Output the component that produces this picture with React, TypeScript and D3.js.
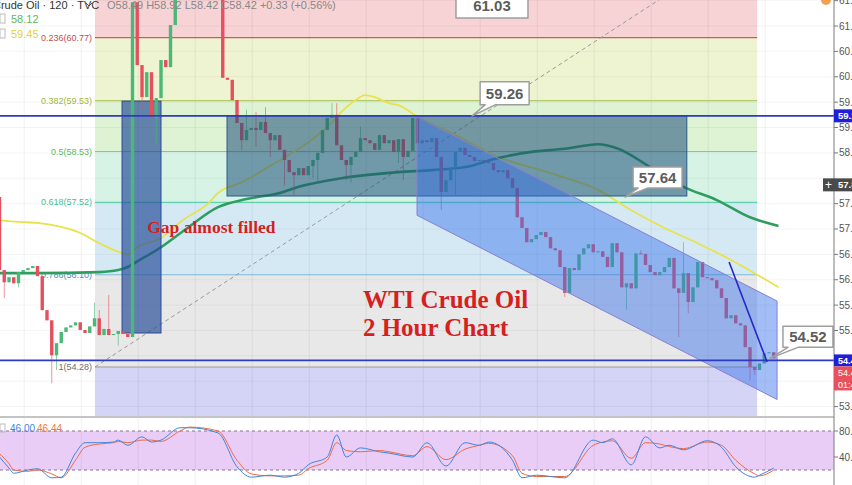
import React from "react";
import * as d3 from "d3";

// ---- data ----
const firstOpen = 57.63;
const closes = [
  56.19, 55.95, 56.05, 55.93, 56.15, 56.19, 56.23, 56.27, 56.07, 55.4,
  55.2, 54.51, 54.75, 54.97, 55.06, 55.1, 55.16, 55.01, 54.95, 55.08,
  55.24, 54.91, 55.03, 54.91, 54.93, 54.99, 54.93, 54.87, 61.47, 60.23,
  59.6, 60.09, 59.19, 59.58, 60.33, 60.19, 61.02, 61.71, 61.91, 62.2,
  62.11, 62.4, 62.3, 62.11, 62.01, 61.91, 61.81, 59.98, 59.94, 59.54,
  59.09, 58.75, 58.95, 58.99, 58.95, 59.11, 58.89, 58.75, 58.85, 58.56,
  58.36, 58.12, 58.06, 58.2, 58.06, 58.24, 58.36, 58.5, 58.95, 59.19,
  59.25, 58.65, 58.36, 58.26, 58.42, 58.52, 58.79, 58.75, 58.69, 58.56,
  58.85, 58.69, 58.75, 58.52, 58.77, 58.42, 58.54, 59.19, 58.69, 58.75,
  58.71, 58.79, 58.42, 57.73, 57.96, 58.2, 58.52, 58.6, 58.46, 58.42,
  58.34, 58.36, 58.32, 58.3, 58.16, 58.12, 58.16, 58.0, 57.81, 57.23,
  57.02, 56.74, 56.8, 56.88, 56.94, 56.84, 56.62, 56.58, 56.25, 55.74,
  56.23, 56.19, 56.5, 56.62, 56.7, 56.54, 56.56, 56.45, 56.25, 56.72,
  56.54, 55.85, 55.93, 55.83, 56.52, 56.51, 56.29, 56.15, 56.09, 56.15,
  56.25, 56.43, 55.83, 55.74, 56.13, 55.56, 55.85, 56.35, 56.05, 56.03,
  55.99, 55.83, 55.64, 55.24, 55.3, 55.14, 55.1, 54.67, 54.28, 54.22,
  54.35, 54.55, 54.57, 54.45,
];
const wickIdx = [1, 4, 11, 12, 20, 21, 23, 25, 30, 32, 33, 51, 52, 54, 56, 57, 60, 62, 66, 67, 70, 71, 73, 74, 76, 84, 85, 93, 96, 119, 132, 135, 143, 144, 145, 158, 159];
const wickHigh = [56.19, null, null, null, 55.55, 55.4, 55.7, null, null, null, null, null, 59.35, 59.3, 59.4, null, null, null, null, null, 59.48, 59.48, null, null, 59.02, null, null, null, null, null, null, 56.58, null, 56.74, null, null, null];
const wickLow = [55.64, 55.85, 53.96, 54.22, null, null, null, 54.7, 59.34, 58.69, 58.69, 58.56, null, 58.62, null, 58.42, 57.86, 57.67, 58.0, 57.9, null, null, 57.96, 57.92, null, 58.3, 57.96, 57.37, 57.67, 55.66, 55.4, null, 54.87, null, 55.34, 54.02, 54.12];

const yellowIdx = [0, 4, 8, 13, 17, 21, 26, 27, 29, 34, 39, 44, 46, 51, 58, 65, 69, 72, 75, 77, 79, 82, 84, 88, 96, 105, 116, 126, 133, 140, 147, 154, 164];
const yellowVal = [57.17, 57.14, 57.12, 57.04, 56.92, 56.72, 56.52, 56.5, 56.64, 56.82, 57.2, 57.51, 57.71, 57.92, 58.3, 58.71, 59.01, 59.31, 59.54, 59.64, 59.6, 59.48, 59.44, 59.21, 58.85, 58.42, 58.1, 57.77, 57.37, 57.02, 56.72, 56.39, 55.85];
const greenIdx = [0, 8, 21, 25, 27, 29, 34, 39, 46, 52, 59, 63, 72, 84, 91, 98, 105, 112, 119, 126, 130, 137, 144, 151, 158, 164];
const greenVal = [56.13, 56.13, 56.15, 56.19, 56.25, 56.36, 56.64, 56.98, 57.43, 57.59, 57.71, 57.83, 58.0, 58.12, 58.16, 58.22, 58.4, 58.52, 58.58, 58.67, 58.59, 58.22, 57.83, 57.57, 57.23, 57.06];

const stochIdx = [0, 2, 3, 6, 8, 11, 13, 16, 18, 21, 24, 25, 27, 30, 32, 34, 38, 40, 46, 50, 53, 57, 60, 63, 65, 69, 71, 73, 76, 80, 82, 87, 90, 94, 98, 101, 103, 108, 110, 113, 119, 125, 127, 129, 133, 136, 139, 141, 144, 149, 152, 155, 159, 160, 163];
const stochK = [40, 23, 15, 20, 22, 8, 9, 46, 62, 62, 63, 66, 58, 71, 63, 66, 85, 85, 77, 25, 9, 12, 9, 15, 28, 40, 74, 40, 54, 48, 46, 40, 62, 26, 62, 58, 63, 35, 8, 12, 8, 66, 62, 68, 28, 71, 54, 58, 51, 65, 55, 25, 9, 12, 23];
const stochD = [45, 30, 20, 18, 20, 14, 8, 35, 55, 60, 62, 64, 62, 66, 66, 64, 80, 86, 80, 35, 14, 11, 11, 12, 22, 35, 62, 50, 48, 50, 48, 42, 56, 36, 52, 58, 61, 42, 15, 10, 10, 58, 63, 65, 38, 62, 60, 56, 53, 63, 58, 35, 14, 11, 20];

const fibLevels = [0, 0.236, 0.382, 0.5, 0.618, 0.786, 1, 1.618];
const fibLabels = ["", "0.236(60.77)", "0.382(59.53)", "0.5(58.53)", "0.618(57.52)", "0.786(56.10)", "1(54.28)", ""];
const fibTop = 62.775;
const fibBottom = 54.28;
const fibStart = 20.1;
const fibEnd = 159.5;

const priceTicks = [53.5, 54, 54.5, 55, 55.5, 56, 56.5, 57, 57.5, 58, 58.5, 59, 59.5, 60, 60.5, 61, 61.5];
const gridIdx = [5.2, 17.2, 29.2, 41.2, 53.2, 65.2, 77.2, 89.2, 101.2, 113.2, 125.2, 137.2, 149.2, 161.2];
const hLines = [59.23, 54.41];
const tagPrices = [59.23, 57.87, 54.41, 54.1];

const gapBox = { k0: 25.8, k1: 34, p0: 59.52, p1: 54.95 };
const rangeBox = { k0: 47.9, k1: 144.7, p0: 59.23, p1: 57.65 };
const channel = { k0: 87.9, k1: 163.7, top0: 59.21, top1: 55.58, bot0: 57.27, bot1: 53.64 };
const arrowLine = { k0: 153.6, p0: 56.35, k1: 161.6, p1: 54.38 };

const callouts = [
  { label: "61.03", k: 96.1, p: 61.16, dx: 0, dy: -24, w: 72, h: 24 },
  { label: "59.26", k: 99.5, p: 59.23, dx: 8, dy: -34, w: 49, h: 23 },
  { label: "57.64", k: 131.7, p: 57.63, dx: 8, dy: -30, w: 49, h: 21 },
  { label: "54.52", k: 162.2, p: 54.45, dx: 13, dy: -32, w: 50, h: 21 },
];

const bandColors = ["#f8d3d5", "#eef4d2", "#def2d4", "#d6f3e6", "#d5e9f4", "#e8e8e8", "#d4d4f6"];
const lineColors = ["#c0625a", "#c0625a", "#b5c96b", "#84cc84", "#63d2b0", "#7ab9d6", "#999999", "#999"];
const labelColors = ["", "#c0504d", "#9cb83c", "#5cb85c", "#3fbf98", "#4292c6", "#707070", ""];

const W = 852;
const H = 485;
const AX = 834;
const MAIN_BOTTOM = 417;
const UI = "'Liberation Sans', Arial, sans-serif";
const SERIF = "'Liberation Serif', 'Times New Roman', serif";
const UP = "#4bb877";
const DOWN = "#e5505f";

export default function App() {
  const x = d3.scaleLinear().domain([0, 1]).range([-0.5, 4.25]);
  const y = d3.scaleLinear().domain([fibBottom, 60.77]).range([367, 37.7]);
  const ys = d3.scaleLinear().domain([0, 100]).range([483, 418]);
  const fibPrice = (l: number) => fibTop - l * (fibTop - fibBottom);

  const maLine = d3
    .line<[number, number]>()
    .x((d) => x(d[0]))
    .y((d) => y(d[1]))
    .curve(d3.curveMonotoneX);
  const stLine = d3
    .line<[number, number]>()
    .x((d) => x(d[0]))
    .y((d) => ys(d[1]))
    .curve(d3.curveMonotoneX);

  const yellowPts = yellowIdx.map((k, i) => [k, yellowVal[i]] as [number, number]);
  const greenPts = greenIdx.map((k, i) => [k, greenVal[i]] as [number, number]);
  const kPts = stochIdx.map((k, i) => [k, stochK[i]] as [number, number]);
  const dPts = stochIdx.map((k, i) => [k, stochD[i]] as [number, number]);

  const fx0 = x(fibStart);
  const fx1 = x(fibEnd);

  const chPath = `M${x(channel.k0)},${y(channel.top0)}L${x(channel.k1)},${y(channel.top1)}L${x(channel.k1)},${y(channel.bot1)}L${x(channel.k0)},${y(channel.bot0)}Z`;

  // axis tick labels hidden behind the price tags
  const visibleTicks = priceTicks.filter((p) => tagPrices.every((t) => Math.abs(y(p) - y(t)) > 8.5));

  const candles = closes.map((c, i) => {
    const o = i === 0 ? firstOpen : closes[i - 1];
    const up = c >= o;
    let hi = Math.max(o, c);
    let lo = Math.min(o, c);
    const w = wickIdx.indexOf(i);
    if (w >= 0) {
      if (wickHigh[w] != null) hi = wickHigh[w] as number;
      if (wickLow[w] != null) lo = wickLow[w] as number;
    }
    const cx = x(i);
    const top = y(Math.max(o, c));
    const bh = Math.max(1, y(Math.min(o, c)) - top);
    return (
      <g key={i}>
        <line x1={cx} x2={cx} y1={y(hi)} y2={y(lo)} stroke={up ? UP : DOWN} strokeWidth={1} opacity={0.6} />
        <rect x={cx - 1.7} y={top} width={3.4} height={bh} fill={up ? UP : DOWN} />
      </g>
    );
  });

  return (
    <div style={{ position: "fixed", left: 0, top: 0 }}>
      <svg width={W} height={H} style={{ display: "block", background: "#fff" }}>
        <defs>
          <clipPath id="mainClip">
            <rect x={0} y={0} width={AX} height={MAIN_BOTTOM} />
          </clipPath>
          <clipPath id="stClip">
            <rect x={0} y={MAIN_BOTTOM + 1} width={AX} height={H - MAIN_BOTTOM} />
          </clipPath>
        </defs>

        <g clipPath="url(#mainClip)">
          {/* fib bands */}
          {fibLevels.slice(0, -1).map((l, i) => {
            const yA = y(fibPrice(l));
            const yB = y(fibPrice(fibLevels[i + 1]));
            return <rect key={"b" + i} x={fx0} y={yA} width={fx1 - fx0} height={yB - yA} fill={bandColors[i]} />;
          })}
          {/* grid */}
          {priceTicks.map((p) => (
            <line key={"hg" + p} x1={0} x2={AX} y1={y(p)} y2={y(p)} stroke="rgba(0,0,0,0.045)" />
          ))}
          {gridIdx.map((k) => (
            <line key={"vg" + k} x1={x(k)} x2={x(k)} y1={0} y2={MAIN_BOTTOM} stroke="rgba(0,0,0,0.06)" />
          ))}
          {/* fib lines + labels */}
          {fibLevels.map((l, i) =>
            l > 0 && l <= 1 ? (
              <g key={"fl" + i}>
                <line x1={fx0} x2={fx1} y1={y(fibPrice(l))} y2={y(fibPrice(l))} stroke={lineColors[i]} strokeWidth={1.2} />
                <text x={fx0 - 3} y={y(fibPrice(l))} dy="0.35em" textAnchor="end" fontSize={9} fontFamily={UI} fill={labelColors[i]}>
                  {fibLabels[i]}
                </text>
              </g>
            ) : null
          )}
          {/* fib trend dashed line */}
          <line x1={x(fibStart)} y1={y(fibBottom)} x2={x(fibEnd)} y2={y(fibTop)} stroke="#9a9a9a" strokeWidth={1} strokeDasharray="4,3" />

          {/* moving averages */}
          <path d={maLine(yellowPts) || ""} fill="none" stroke="#e8e24c" strokeWidth={1.8} />
          <path d={maLine(greenPts) || ""} fill="none" stroke="#2f9d5d" strokeWidth={2.6} />

          {/* gap box */}
          <rect
            x={x(gapBox.k0)}
            y={y(gapBox.p0)}
            width={x(gapBox.k1) - x(gapBox.k0)}
            height={y(gapBox.p1) - y(gapBox.p0)}
            fill="rgba(32,72,150,0.66)"
            stroke="#2a4a9a"
            strokeWidth={1}
          />

          {candles}

          {/* range box and channel */}
          <rect
            x={x(rangeBox.k0)}
            y={y(rangeBox.p0)}
            width={x(rangeBox.k1) - x(rangeBox.k0)}
            height={y(rangeBox.p1) - y(rangeBox.p0)}
            fill="rgba(30,78,120,0.55)"
            stroke="#2b5a8a"
            strokeWidth={1}
          />
          <path d={chPath} fill="rgba(50,110,235,0.45)" stroke="#8a7fd0" strokeWidth={1} />

          {/* horizontal lines */}
          {hLines.map((p) => (
            <line key={"hl" + p} x1={0} x2={AX} y1={y(p)} y2={y(p)} stroke="#2f3bbf" strokeWidth={1.6} />
          ))}

          {/* arrow line */}
          <line x1={x(arrowLine.k0)} y1={y(arrowLine.p0)} x2={x(arrowLine.k1)} y2={y(arrowLine.p1)} stroke="#2626c9" strokeWidth={1.6} />

          {/* annotations */}
          <text x={x(31.1)} y={y(56.92)} fontFamily={SERIF} fontWeight="bold" fontSize={17.5} fill="#d61f1f">
            Gap almost filled
          </text>
          <text x={x(76.5)} y={y(55.44)} fontFamily={SERIF} fontWeight="bold" fontSize={25} fill="#d61f1f">
            WTI Crude Oil
          </text>
          <text x={x(76.5)} y={y(54.9)} fontFamily={SERIF} fontWeight="bold" fontSize={25} fill="#d61f1f">
            2 Hour Chart
          </text>

          {/* callouts */}
          {callouts.map((c) => {
            const tx = x(c.k);
            const ty = y(c.p);
            const bx = tx + c.dx;
            const by = ty + c.dy;
            const d =
              c.dx === 0
                ? `M${bx},${by}H${bx + c.w}V${by + c.h}H${bx}Z`
                : `M${bx},${by}H${bx + c.w}V${by + c.h}H${bx + 15}L${tx},${ty}L${bx + 5},${by + c.h}H${bx}Z`;
            return (
              <g key={c.label}>
                <path d={d} fill="#fff" stroke="#9e9e9e" strokeWidth={1.5} strokeLinejoin="round" />
                <text x={bx + c.w / 2} y={by + c.h / 2} dy="0.36em" textAnchor="middle" fontFamily={UI} fontWeight="bold" fontSize={15} fill="#5c5c5c">
                  {c.label}
                </text>
              </g>
            );
          })}
        </g>

        {/* header / legend */}
        <text x={-7} y={9} fontSize={11} fontFamily={UI} fill="#333">
          Crude Oil · 120 · TVC
        </text>
        <path d="M86,3 L89,6 L92,3" fill="none" stroke="#555" strokeWidth={1} />
        <text x={107} y={9} fontSize={11} fontFamily={UI} fill="#888">
          O58.49 H58.92 L58.42 C58.42 +0.33 (+0.56%)
        </text>
        <rect x={0} y={14} width={5} height={9} fill="none" stroke="#bbb" />
        <text x={11} y={23} fontSize={11} fontFamily={UI} fill="#5cb85c">
          58.12
        </text>
        <rect x={0} y={29} width={5} height={9} fill="none" stroke="#bbb" />
        <text x={11} y={38} fontSize={11} fontFamily={UI} fill="#e0d43e">
          59.45
        </text>

        {/* stochastic panel */}
        <line x1={0} x2={W} y1={MAIN_BOTTOM} y2={MAIN_BOTTOM} stroke="#c4c4c4" strokeWidth={2} />
        <g clipPath="url(#stClip)">
          <rect x={0} y={ys(80)} width={AX} height={ys(20) - ys(80)} fill="#e9cdf6" />
          {gridIdx.map((k) => (
            <line key={"svg" + k} x1={x(k)} x2={x(k)} y1={MAIN_BOTTOM} y2={H} stroke="rgba(0,0,0,0.06)" />
          ))}
          <line x1={0} x2={AX} y1={ys(80)} y2={ys(80)} stroke="#8e6c9e" strokeDasharray="3,3" />
          <line x1={0} x2={AX} y1={ys(20)} y2={ys(20)} stroke="#8e6c9e" strokeDasharray="3,3" />
          <path d={stLine(dPts) || ""} fill="none" stroke="#ef6a45" strokeWidth={1} />
          <path d={stLine(kPts) || ""} fill="none" stroke="#3f86e0" strokeWidth={1} />
        </g>
        <rect x={0} y={424} width={5} height={8} fill="none" stroke="#bbb" />
        <text x={10} y={432} fontSize={10} fontFamily={UI} fill="#3f86e0">
          46.00
        </text>
        <text x={37} y={432} fontSize={10} fontFamily={UI} fill="#ef7a3a">
          46.44
        </text>

        {/* right axis */}
        <rect x={AX} y={0} width={W - AX} height={H} fill="#fff" />
        <line x1={AX} x2={AX} y1={0} y2={H} stroke="#7a7a7a" />
        {visibleTicks.map((p) => (
          <g key={"t" + p}>
            <line x1={AX} x2={AX + 4} y1={y(p)} y2={y(p)} stroke="#7a7a7a" />
            <text x={AX + 5} y={y(p)} dy="0.35em" fontSize={10} fontFamily={UI} fill="#555">
              {p.toFixed(2)}
            </text>
          </g>
        ))}
        {[80, 40].map((v) => (
          <g key={"st" + v}>
            <line x1={AX} x2={AX + 4} y1={ys(v)} y2={ys(v)} stroke="#7a7a7a" />
            <text x={AX + 5} y={ys(v)} dy="0.35em" fontSize={10} fontFamily={UI} fill="#555">
              {v.toFixed(2)}
            </text>
          </g>
        ))}
        {/* axis price tags */}
        <rect x={AX} y={y(59.23) - 6.5} width={W - AX} height={13} fill="#1f1fd8" />
        <text x={AX + 4} y={y(59.23)} dy="0.35em" fontSize={9.5} fontWeight="bold" fontFamily={UI} fill="#fff">
          59.26
        </text>
        <rect x={AX - 11} y={y(57.87) - 6.5} width={W - AX + 11} height={13} fill="#4a4a4a" />
        <text x={AX - 9} y={y(57.87)} dy="0.36em" fontSize={12} fontFamily={UI} fill="#fff">
          +
        </text>
        <text x={AX + 4} y={y(57.87)} dy="0.35em" fontSize={9.5} fontWeight="bold" fontFamily={UI} fill="#fff">
          57.85
        </text>
        <rect x={AX} y={y(54.41) - 6} width={W - AX} height={12} fill="#1f1fd8" />
        <text x={AX + 4} y={y(54.41)} dy="0.35em" fontSize={9} fontWeight="bold" fontFamily={UI} fill="#fff">
          54.41
        </text>
        <rect x={AX} y={y(54.41) + 6} width={W - AX} height={24} fill="#e8505c" />
        <text x={AX + 4} y={y(54.41) + 12} dy="0.35em" fontSize={9} fontFamily={UI} fill="#fff">
          54.45
        </text>
        <text x={AX + 4} y={y(54.41) + 24} dy="0.35em" fontSize={9} fontFamily={UI} fill="#fff">
          01:47
        </text>
        <circle cx={826} cy={0} r={5} fill="#f0a050" />
      </svg>
    </div>
  );
}
